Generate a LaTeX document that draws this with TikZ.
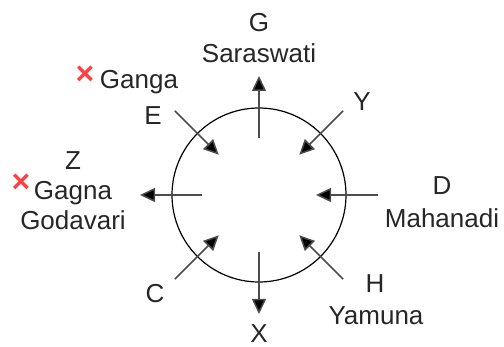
\documentclass[tikz,border=0pt]{standalone}
\usepackage{fontspec}
\setmainfont{Liberation Sans}
\usetikzlibrary{arrows.meta, positioning, calc}

\tikzset{
  river/.style = {font=\fontsize{13}{15}\selectfont, anchor=base, inner sep=0pt, text=black!85},
  flow/.style = {draw=black!70, line width=0.75pt, -{Triangle[length=7.5pt,width=7pt,fill=black]}},
  wrong/.style = {text=red!75!white, font=\fontsize{16}{16}\selectfont\bfseries, inner sep=0pt}
}

\begin{document}
\begin{tikzpicture}[x=0.5pt, y=-0.5pt]
\useasboundingbox (0,0) rectangle (504,347);
\node[draw, circle, minimum size=87pt, line width=0.6pt, inner sep=0pt] (ring) at (259,195) {};
% ends of the eight arrows
\foreach \name/\ang in {g/90, y/45, d/0, h/-45, x/-90, c/-135, z/180, e/135} {
  \coordinate (\name-in) at ($(ring.center)+(\ang:28.5pt)$);
  \coordinate (\name-out) at ($(ring.center)+(\ang:59.5pt)$);
}
\draw[flow] (g-in) -- (g-out);
\draw[flow] (x-in) -- (x-out);
\draw[flow] (z-in) -- (z-out);
\draw[flow] (y-out) -- (y-in);
\draw[flow] (d-out) -- (d-in);
\draw[flow] (h-out) -- (h-in);
\draw[flow] (c-out) -- (c-in);
\draw[flow] (e-out) -- (e-in);

% labels
\node[river] (gl) at (259,32) {G};
\node[river] (saraswati) at (259,63) {Saraswati};
\node[river] (yl) at (362,111) {Y};
\node[river] (el) at (153,125) {E};
\node[river] (ganga) at (139,89) {Ganga};
\node[wrong] (gangax) at (85,75) {×};
\node[river] (zl) at (73,170) {Z};
\node[river] (gagna) at (73,200) {Gagna};
\node[river] (godavari) at (73,230) {Godavari};
\node[wrong] (gagnax) at (21,183) {×};
\node[river] (dl) at (442,195) {D};
\node[river] (mahanadi) at (442,228) {Mahanadi};
\node[river] (hl) at (375,293) {H};
\node[river] (yamuna) at (376,325) {Yamuna};
\node[river] (cl) at (155,303) {C};
\node[river] (xl) at (259,343) {X};
\end{tikzpicture}
\end{document}
